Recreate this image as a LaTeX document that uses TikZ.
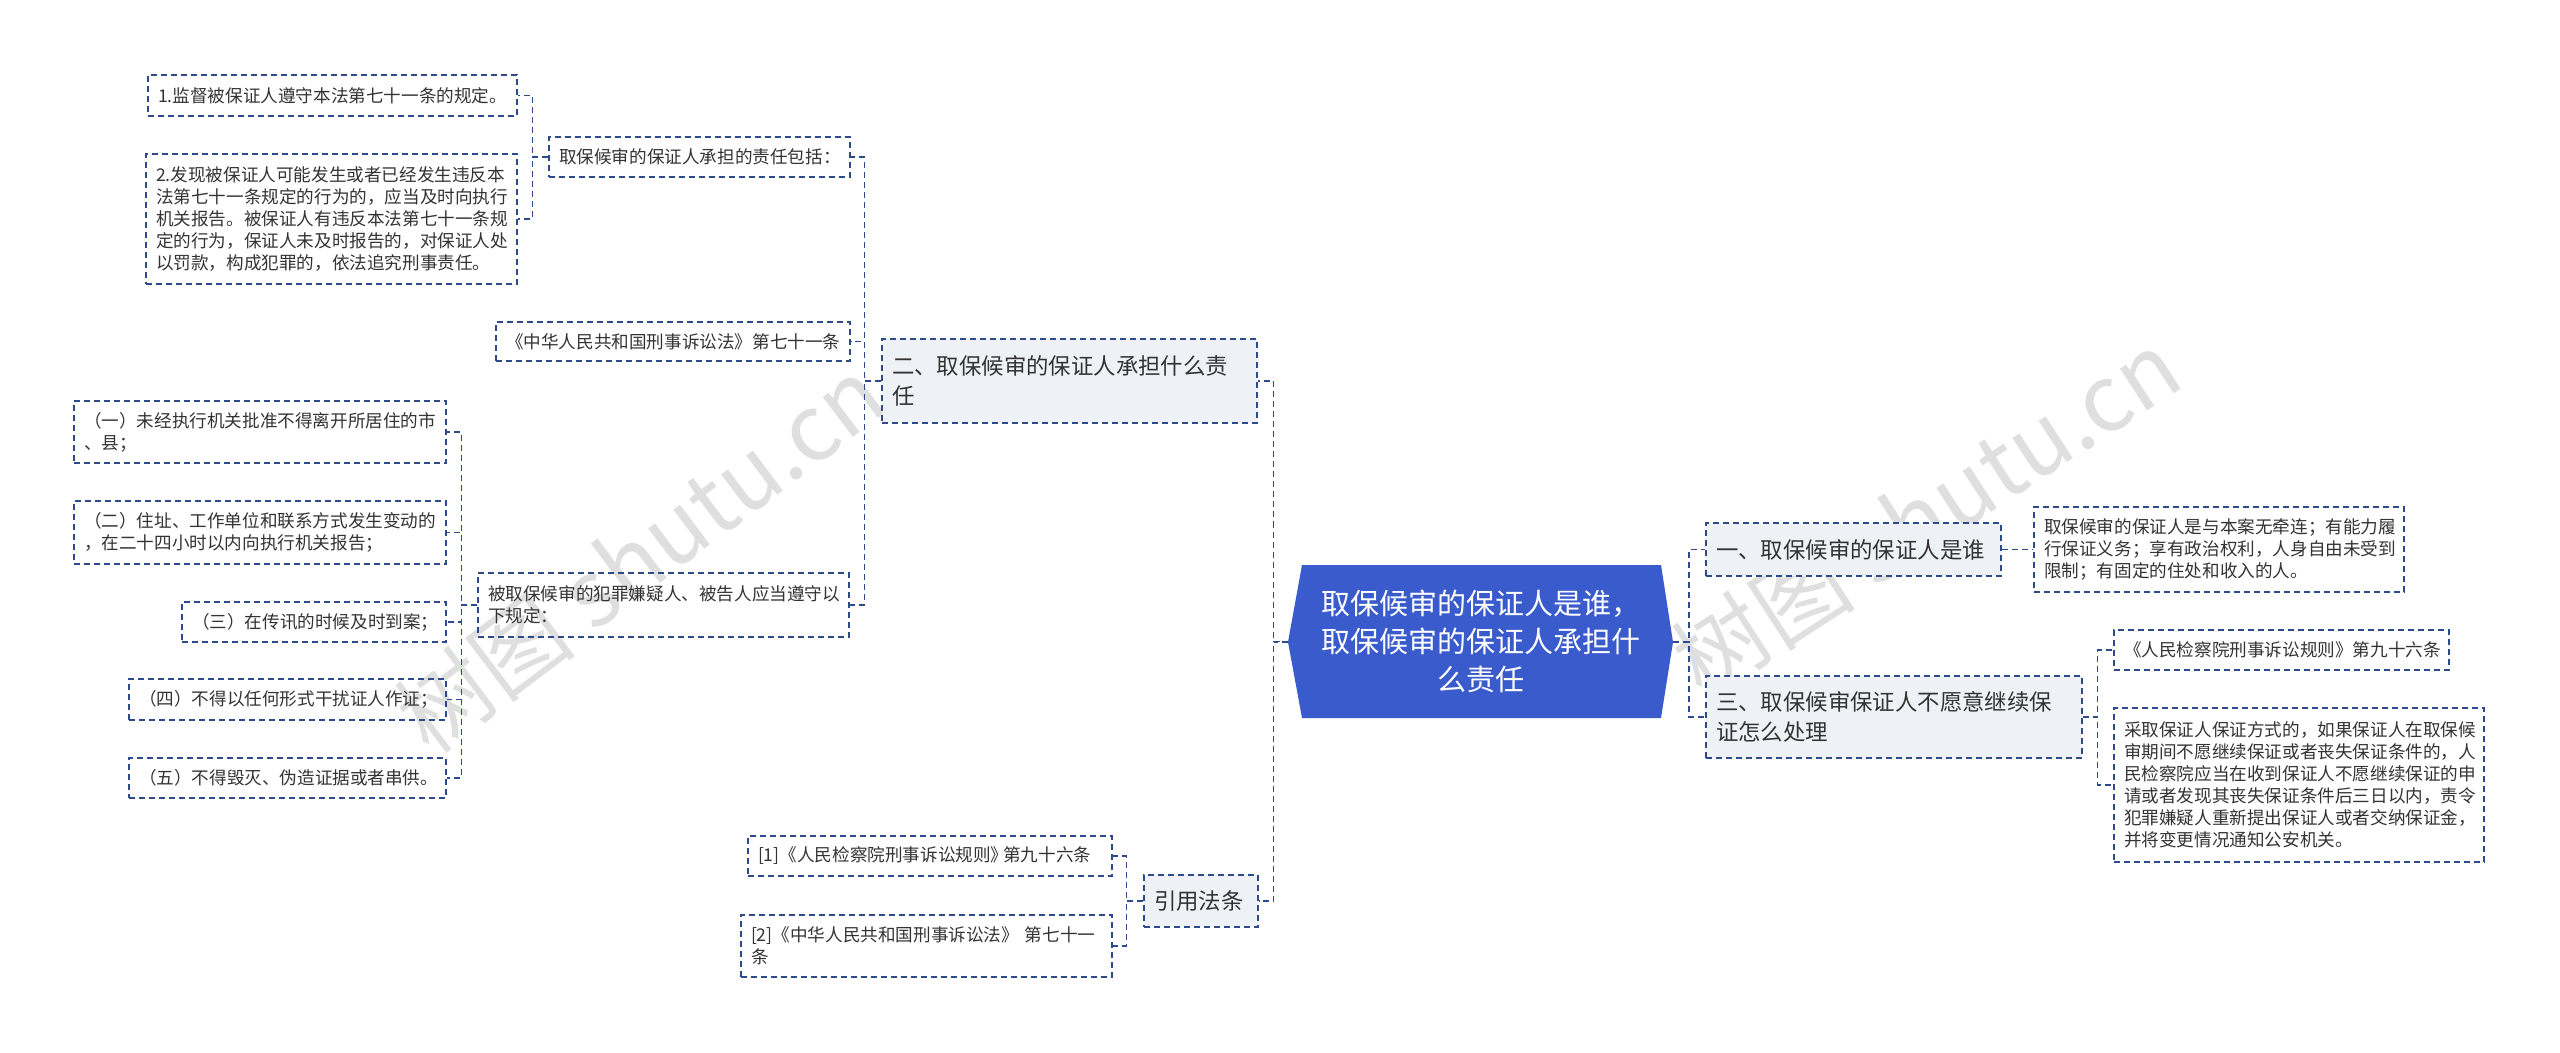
\documentclass[tikz,border=0pt]{standalone}
\usepackage{fontspec}
\setmainfont{Noto Sans CJK SC}
\definecolor{bd}{HTML}{2C4A8C}
\definecolor{rootc}{HTML}{3A5BCC}
\definecolor{brf}{HTML}{EEF1F5}
\newcommand\bx[7]{%
 \pgfmathsetmacro\bw{(#4-#2)*0.5}\pgfmathsetmacro\bh{(#5-#3)*0.5}\pgfmathsetmacro\tw{\bw-10}%
 \node[#6, minimum width=\bw pt, minimum height=\bh pt, text width=\tw pt, inner sep=0pt, align=left] (#1) at ({(#2+#4)/2},{(#3+#5)/2}) {#7};}
\tikzset{
 leaf/.style={draw=bd, dash pattern=on 3pt off 2pt, line width=0.6pt, font=\fontsize{8.8}{11}\selectfont, text=black!80},
 branch/.style={leaf, fill=brf, font=\fontsize{11.2}{15}\selectfont},
 conn/.style={draw=bd, dash pattern=on 3pt off 2pt, line width=0.7pt},
}
\begin{document}
\begin{tikzpicture}[x=0.5pt,y=-0.5pt]
\useasboundingbox (0,0) rectangle (2560,1053);
\fill[white] (0,0) rectangle (2560,1053);
% watermarks
\node[text=gray!25, rotate=37, font=\fontsize{46}{46}\selectfont\itshape] at (640,555) {树图 shutu.cn};
\node[text=gray!25, rotate=33, font=\fontsize{46}{46}\selectfont\itshape] at (1926,513) {树图 shutu.cn};
% root
\fill[rootc] (1288,642) -- (1302,565) -- (1661,565) -- (1673,642) -- (1661,718) -- (1302,718) -- cycle;
\node[inner sep=0pt, minimum width=192.5pt, minimum height=76.5pt, align=center, text=white, font=\fontsize{14.5}{19}\selectfont] (root) at (1480.5,641.5) {取保候审的保证人是谁，\\取保候审的保证人承担什\\么责任};
% branches
\bx{b2}{882}{339}{1257}{423}{branch}{二、取保候审的保证人承担什么责\\任}
\bx{cite}{1144}{875}{1258}{927}{branch}{引用法条}
\bx{b1}{1706}{523}{2001}{576}{branch}{一、取保候审的保证人是谁}
\bx{b3}{1706}{676}{2082}{758}{branch}{三、取保候审保证人不愿意继续保\\证怎么处理}
% branch 2 children
\bx{inc}{549}{137}{850}{177}{leaf}{取保候审的保证人承担的责任包括：}
\bx{l1}{148}{75}{517}{116}{leaf}{1.监督被保证人遵守本法第七十一条的规定。}
\bx{l2}{146}{154}{517}{284}{leaf}{2.发现被保证人可能发生或者已经发生违反本\\法第七十一条规定的行为的，应当及时向执行\\机关报告。被保证人有违反本法第七十一条规\\定的行为，保证人未及时报告的，对保证人处\\以罚款，构成犯罪的，依法追究刑事责任。}
\bx{law}{496}{322}{850}{361}{leaf}{《中华人民共和国刑事诉讼法》第七十一条}
\bx{obey}{478}{573}{849}{637}{leaf}{被取保候审的犯罪嫌疑人、被告人应当遵守以\\下规定：}
\bx{o1}{74}{401}{446}{463}{leaf}{（一）未经执行机关批准不得离开所居住的市\\、县；}
\bx{o2}{74}{501}{446}{564}{leaf}{（二）住址、工作单位和联系方式发生变动的\\，在二十四小时以内向执行机关报告；}
\bx{o3}{182}{602}{446}{642}{leaf}{（三）在传讯的时候及时到案；}
\bx{o4}{129}{679}{446}{720}{leaf}{（四）不得以任何形式干扰证人作证；}
\bx{o5}{129}{758}{446}{798}{leaf}{（五）不得毁灭、伪造证据或者串供。}
% cite children
\bx{c1}{748}{836}{1112}{876}{leaf}{\mbox{[1]《人民检察院刑事诉讼规则》\kern-0.3em 第九十六条}}
\bx{c2}{741}{915}{1112}{977}{leaf}{[2]《中华人民共和国刑事诉讼法》 第七十一\\条}
% right children
\bx{d1}{2034}{507}{2404}{592}{leaf}{取保候审的保证人是与本案无牵连；有能力履\\行保证义务；享有政治权利，人身自由未受到\\限制；有固定的住处和收入的人。}
\bx{d3a}{2114}{630}{2449}{670}{leaf}{《人民检察院刑事诉讼规则》第九十六条}
\bx{d3b}{2114}{708}{2484}{862}{leaf}{采取保证人保证方式的，如果保证人在取保候\\审期间不愿继续保证或者丧失保证条件的，人\\民检察院应当在收到保证人不愿继续保证的申\\请或者发现其丧失保证条件后三日以内，责令\\犯罪嫌疑人重新提出保证人或者交纳保证金，\\并将变更情况通知公安机关。}
% connectors
\foreach \c in {b2,cite} \draw[conn] (root.west) ++(-8,0) -- ++(-6,0) |- (\c.east);
\draw[conn] (1288,642) -- (1274,642);
\foreach \c in {b1,b3} \draw[conn] (1673,642) -- (1689,642) |- (\c.west);
\foreach \c in {inc,law,obey} \draw[conn] (b2.west) -- ++(-17,0) |- (\c.east);
\foreach \c in {l1,l2} \draw[conn] (inc.west) -- ++(-16,0) |- (\c.east);
\foreach \c in {o1,o2,o3,o4,o5} \draw[conn] (obey.west) -- ++(-16,0) |- (\c.east);
\foreach \c in {c1,c2} \draw[conn] (cite.west) -- ++(-17,0) |- (\c.east);
\draw[conn] (b1.east) -- (d1.west);
\foreach \c in {d3a,d3b} \draw[conn] (b3.east) -- ++(15,0) |- (\c.west);
\end{tikzpicture}
\end{document}
